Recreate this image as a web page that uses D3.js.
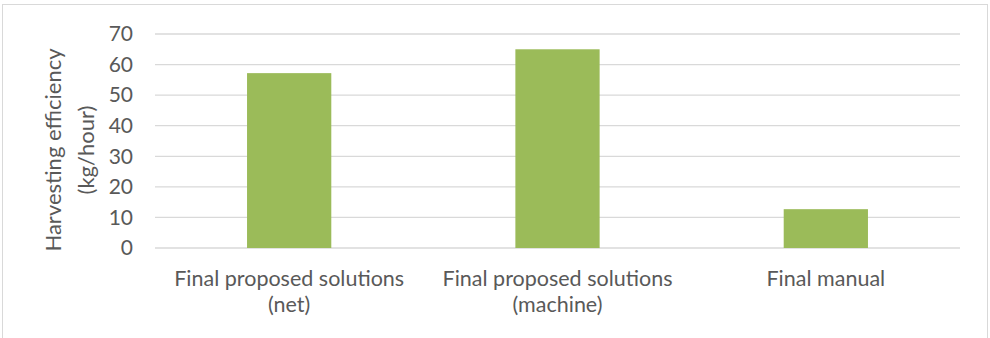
<!DOCTYPE html>
<html>
<head>
<meta charset="utf-8">
<script src="https://cdn.jsdelivr.net/npm/d3@7"></script>
<style>
  body { margin: 0; background: #fff; }
  text { font-family: Lato, "Open Sans", sans-serif; fill: #595959; }
</style>
</head>
<body>
<svg id="chart" width="990" height="338"></svg>
<script>
// categories (each label split into its lines)
const categories = [
  ["Final proposed solutions", "(net)"],
  ["Final proposed solutions", "(machine)"],
  ["Final manual"]
];
// harvesting efficiency values, kg/hour
const values = [57.2, 65.0, 12.7];
const yTicks = [0, 10, 20, 30, 40, 50, 60, 70];
const yTitle = ["Harvesting efficiency", "(kg/hour)"];

const svg = d3.select("#chart");

// outer chart border
svg.append("rect")
  .attr("x", 2.5).attr("y", 4.5)
  .attr("width", 985).attr("height", 345)
  .attr("fill", "none")
  .attr("stroke", "#d9d9d9");

const margin = {top: 34, right: 30, bottom: 90, left: 155};
const width = 960 - margin.left;
const height = 248 - margin.top;

const g = svg.append("g").attr("transform", `translate(${margin.left},${margin.top})`);

const x = d3.scaleBand()
  .domain(d3.range(categories.length))
  .range([0, width])
  .paddingInner(0.686)
  .paddingOuter(0.343);

const y = d3.scaleLinear().domain([0, 70]).range([height, 0]);

// gridlines
g.selectAll(".grid")
  .data(yTicks)
  .join("line")
  .attr("x1", 0).attr("x2", width)
  .attr("y1", d => y(d)).attr("y2", d => y(d))
  .attr("stroke", "#d9d9d9")
  .attr("stroke-width", 1.3);

// y axis tick labels
const yAxis = d3.axisLeft(y).tickValues(yTicks).tickSize(0).tickPadding(22);
g.append("g").call(yAxis)
  .call(a => a.select(".domain").remove())
  .selectAll("text")
  .style("font-size", "21px")
  .attr("fill", "#595959");

// bars
g.selectAll(".bar")
  .data(values)
  .join("rect")
  .attr("x", (d, i) => x(i))
  .attr("y", d => y(d))
  .attr("width", x.bandwidth())
  .attr("height", d => height - y(d))
  .attr("fill", "#9bbb59");

// category labels
const xAxis = d3.axisBottom(x).tickSize(0).tickFormat("");
const xg = g.append("g").attr("transform", `translate(0,${height})`).call(xAxis);
xg.select(".domain").remove();
xg.selectAll(".tick").each(function(i) {
  const t = d3.select(this).append("text")
    .attr("text-anchor", "middle")
    .attr("fill", "#595959")
    .style("font-size", "21.5px");
  categories[i].forEach((line, k) => {
    t.append("tspan")
      .attr("x", 0)
      .attr("y", 38 + k * 26)
      .text(line);
  });
});

// y axis title
const title = svg.append("text")
  .attr("transform", "translate(0,150) rotate(-90)")
  .attr("text-anchor", "middle")
  .style("font-size", "22px");
yTitle.forEach((line, k) => {
  title.append("tspan")
    .attr("x", 0)
    .attr("y", 61 + k * 33)
    .text(line);
});
</script>
</body>
</html>
